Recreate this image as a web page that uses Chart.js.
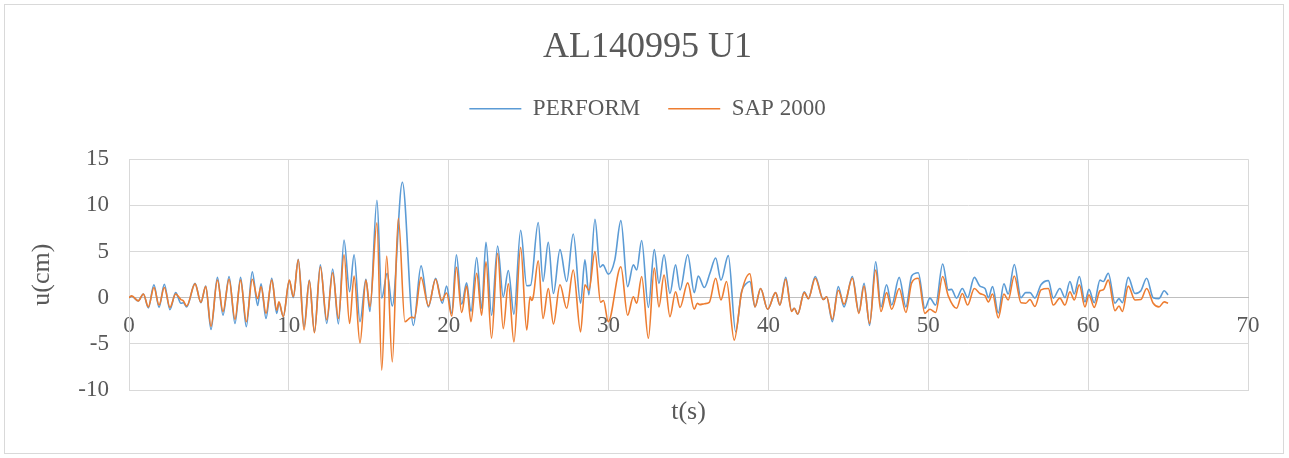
<!DOCTYPE html>
<html>
<head>
<meta charset="utf-8">
<script src="https://cdn.jsdelivr.net/npm/chart.js@4.4.1/dist/chart.umd.min.js"></script>
<style>
  html, body { margin: 0; padding: 0; background: #ffffff; }
  canvas { display: block; }
</style>
</head>
<body>
<canvas id="c" width="1289" height="458"></canvas>
<script>
// ---- data ----
const chartTitle = 'AL140995 U1';
const seriesNames = ['PERFORM', 'SAP 2000'];
const xTitle = 't(s)';
const yTitle = 'u(cm)';
const xTicks = [0, 10, 20, 30, 40, 50, 60, 70];
const yTicks = [-10, -5, 0, 5, 10, 15];

const tPerform = [0,0.17,0.58,0.9,1.21,1.56,1.88,2.21,2.56,2.92,
  3.25,3.4,3.61,4.13,4.5,4.8,5.13,5.53,5.88,6.26,
  6.63,6.98,7.34,7.71,8.05,8.26,8.57,8.93,9.24,9.38,
  9.65,10.03,10.28,10.59,10.95,11.28,11.6,11.97,12.37,12.74,
  13.1,13.45,13.8,14.08,14.45,14.82,15.07,15.51,15.81,16.15,
  16.47,17.1,17.79,18.27,18.73,19.18,19.6,19.87,20.19,20.48,
  20.81,21.12,21.39,21.75,22.06,22.33,22.68,23.06,23.41,23.73,
  24.08,24.5,24.88,25.12,25.6,25.9,26.23,26.55,26.96,27.38,
  27.79,28.25,28.52,28.77,29.15,29.46,29.65,29.98,30.39,30.77,
  31.19,31.55,31.76,32.07,32.49,32.86,33.15,33.47,33.84,34.19,
  34.47,34.95,35.36,35.61,35.99,36.34,36.7,37.03,37.49,37.95,
  38.32,38.6,38.84,39.16,39.51,39.95,40.45,40.72,41.08,41.45,
  41.62,41.83,42.24,42.5,42.93,43.43,43.64,44.0,44.37,44.73,
  45.25,45.66,45.98,46.33,46.71,47.04,47.39,47.71,48.18,48.6,
  48.96,49.37,49.79,50.1,50.46,50.9,51.25,51.45,51.77,52.13,
  52.46,52.88,53.23,53.55,53.76,54.02,54.38,54.73,55.0,55.38,
  55.8,56.09,56.36,56.67,57.05,57.51,57.82,58.23,58.55,58.86,
  59.13,59.45,59.8,60.05,60.38,60.74,60.95,61.26,61.68,61.93,
  62.14,62.51,62.93,63.3,63.66,64.07,64.43,64.76,65.0];
const uPerform = [0,0.15,-0.35,0.4,-1.1,1.4,-1.05,1.45,-1.3,0.55,
  -0.6,-0.55,-1.0,1.55,-0.55,1.25,-3.45,2.2,-1.9,2.3,
  -2.8,2.2,-3.15,2.8,-0.85,1.5,-2.25,2.1,-1.7,-0.55,
  -2.05,1.85,0.0,4.15,-3.15,1.9,-3.7,3.55,-2.8,3.1,
  -2.85,6.25,0.65,4.65,-2.6,2.0,-1.5,10.55,-0.05,2.65,
  -0.9,12.5,-3.0,3.45,-1.0,2.1,-0.6,1.25,-1.7,4.65,
  -0.7,1.6,-1.5,4.35,-1.15,6.0,-1.9,5.6,0.1,2.95,
  -1.8,7.3,1.3,1.35,8.15,1.75,6.0,0.45,5.2,1.75,
  6.9,-0.6,4.1,0.3,8.5,3.3,3.55,2.55,4.1,8.35,
  1.2,3.55,3.0,6.2,-1.05,5.2,1.55,4.65,0.45,3.55,
  0.85,4.65,0.55,2.35,1.1,2.65,4.3,1.9,4.55,-3.7,
  0.65,1.5,1.75,-1.0,1.0,-1.25,0.55,-0.8,2.2,-1.4,
  -1.15,-1.8,0.65,-0.1,2.3,-0.2,0.1,-2.6,1.2,-1.0,
  2.3,-1.6,1.55,-3.0,3.9,-1.0,1.4,-0.8,2.2,-1.0,
  2.35,2.7,-1.15,-0.05,-0.8,3.65,0.85,0.9,-0.05,1.0,
  0.0,2.2,1.25,1.0,0.0,1.2,-1.65,1.5,0.4,3.6,
  0.0,0.55,0.55,-0.05,1.4,1.85,-0.05,1.0,0.0,1.75,
  0.4,2.3,-0.45,0.9,-0.55,1.9,1.75,2.65,-0.6,-0.1,
  -0.55,2.2,0.45,0.75,2.1,0.0,-0.1,0.75,0.3];

const tSap = [0,0.17,0.58,0.9,1.21,1.56,1.88,2.21,2.56,2.92,
  3.25,3.4,3.61,4.13,4.5,4.8,5.13,5.53,5.88,6.26,
  6.63,6.98,7.34,7.71,8.05,8.26,8.57,8.93,9.24,9.38,
  9.65,10.03,10.28,10.59,10.95,11.28,11.6,11.97,12.37,12.74,
  13.1,13.45,13.8,14.08,14.45,14.82,15.07,15.51,15.81,16.12,
  16.47,16.85,17.26,17.47,17.68,17.85,18.27,18.73,19.18,19.55,
  19.87,20.19,20.48,20.81,21.12,21.39,21.75,22.06,22.33,22.68,
  23.06,23.41,23.73,24.08,24.5,24.88,25.09,25.19,25.29,25.6,
  25.9,26.23,26.55,26.96,27.38,27.79,28.25,28.52,28.77,29.15,
  29.5,29.68,29.98,30.77,31.19,31.55,31.76,32.07,32.49,32.86,
  33.15,33.47,33.84,34.19,34.47,34.95,35.36,35.55,35.7,36.0,
  36.3,36.7,37.03,37.38,37.86,38.32,38.84,39.16,39.51,39.95,
  40.45,40.72,41.08,41.45,41.62,41.83,42.24,42.5,42.93,43.43,
  43.64,44.0,44.37,44.73,45.25,45.66,45.98,46.33,46.71,47.04,
  47.39,47.71,48.18,48.6,48.96,49.37,49.79,50.1,50.46,50.9,
  51.25,51.77,52.13,52.46,52.88,53.23,53.55,53.76,54.02,54.38,
  54.73,55.0,55.38,55.8,56.1,56.36,56.67,57.05,57.51,57.82,
  58.23,58.55,58.86,59.13,59.45,59.8,60.05,60.38,60.74,60.95,
  61.26,61.68,61.93,62.14,62.51,62.93,63.3,63.66,64.07,64.43,
  64.76,65.0];
const uSap = [0,0.2,-0.35,0.4,-1.0,1.1,-0.8,1.1,-1.05,0.4,
  -0.2,-0.35,-0.9,1.5,-0.5,1.2,-3.1,1.9,-1.5,2.0,
  -2.35,1.9,-2.6,2.0,-0.1,1.2,-1.7,1.9,-1.35,-0.45,
  -2.05,1.9,0.1,4.1,-3.5,1.85,-3.8,3.35,-2.4,2.7,
  -2.25,4.65,-2.8,2.35,-4.9,1.9,-1.0,8.1,-7.85,4.5,
  -6.95,8.6,-2.6,-2.35,-2.1,-2.2,2.2,-0.9,2.0,-0.3,
  0.5,-2.0,3.3,-1.6,1.25,-2.6,2.65,-1.9,3.9,-4.4,
  4.8,-3.35,1.5,-4.8,5.45,-3.5,0.1,-0.3,0.1,4.0,
  -2.25,1.0,-2.85,1.4,-1.15,3.0,-3.7,1.4,0.8,5.0,
  -0.5,-0.3,-2.6,3.35,-1.9,0.1,-0.6,2.3,-4.4,3.2,
  -1.0,2.45,-2.05,0.65,-1.05,1.6,-1.25,-0.6,-0.75,-0.65,
  -0.5,2.1,-0.25,1.75,-4.6,0.55,2.6,-1.0,1.0,-1.25,
  0.55,-0.8,2.0,-1.5,-1.15,-1.8,0.55,-0.1,2.1,-0.2,
  0.1,-2.35,0.8,-0.7,2.1,-1.7,1.25,-2.8,3.0,-1.5,
  0.55,-1.25,1.0,-1.6,1.6,2.1,-1.7,-1.25,-1.6,2.3,
  0.2,-1.15,0.45,-0.8,1.0,0.45,0.2,-0.45,0.4,-2.2,
  0.4,-0.25,2.35,-0.55,-0.6,-0.2,-0.95,0.85,1.0,-0.8,
  -0.05,-0.8,0.65,-0.25,1.4,-1.0,0.3,-1.05,0.75,0.85,
  1.9,-1.4,-0.9,-1.5,1.25,-0.25,-0.2,1.0,-0.6,-1.0,
  -0.45,-0.6];

// ---- styling ----
const FONT = "'Liberation Serif', 'Times New Roman', serif";
const TEXT = '#595959';
const GRID = '#d9d9d9';
const BLUE = '#5B9BD5';
const ORANGE = '#ED7D31';

function toPoints(ts, us) {
  const n = Math.min(ts.length, us.length);
  const out = [];
  for (let i = 0; i < n; i++) out.push({x: ts[i], y: us[i]});
  return out;
}

const frame = {
  id: 'frame',
  beforeDraw(chart) {
    const ctx = chart.ctx;
    ctx.save();
    ctx.fillStyle = '#ffffff';
    ctx.fillRect(0, 0, chart.width, chart.height);
    ctx.strokeStyle = GRID;
    ctx.lineWidth = 1;
    ctx.strokeRect(4.5, 4.5, 1279, 449);
    ctx.restore();
  }
};

new Chart(document.getElementById('c'), {
  type: 'line',
  data: {
    datasets: [
      {
        label: seriesNames[0],
        data: toPoints(tPerform, uPerform),
        borderColor: BLUE, backgroundColor: BLUE,
        borderWidth: 1.6, pointRadius: 0, fill: false,
        cubicInterpolationMode: 'monotone',
        xAxisID: 'x', yAxisID: 'y', order: 1
      },
      {
        label: seriesNames[1],
        data: toPoints(tSap, uSap),
        borderColor: ORANGE, backgroundColor: ORANGE,
        borderWidth: 1.6, pointRadius: 0, fill: false,
        cubicInterpolationMode: 'monotone',
        xAxisID: 'x', yAxisID: 'y', order: 0
      }
    ]
  },
  options: {
    responsive: false,
    animation: false,
    devicePixelRatio: 1,
    parsing: true,
    layout: { padding: { top: 8, left: 12, right: 6, bottom: 5 } },
    plugins: {
      tooltip: { enabled: false },
      title: {
        display: true, text: chartTitle, color: TEXT,
        font: { family: FONT, size: 36, weight: 'normal', lineHeight: 1.2 },
        padding: { top: 18, bottom: 0 }
      },
      legend: {
        display: true, position: 'top',
        labels: {
          color: TEXT,
          font: { family: FONT, size: 23 },
          boxWidth: 52, boxHeight: 0, padding: 28,
          sort: (a, b) => a.datasetIndex - b.datasetIndex
        }
      }
    },
    scales: {
      x: {
        type: 'linear', axis: 'x', position: 'bottom',
        min: xTicks[0], max: xTicks[xTicks.length - 1],
        ticks: { display: false, stepSize: 10 },
        grid: { color: GRID, drawTicks: false, lineWidth: 1 },
        border: { display: true, color: GRID },
        title: {
          display: true, text: xTitle, color: TEXT,
          font: { family: FONT, size: 26, lineHeight: 1.2 },
          padding: { top: 0, bottom: 25 }
        },
        afterFit: (s) => { s.height = 63; }
      },
      x0: {
        type: 'linear', axis: 'x', position: { y: 0 },
        min: xTicks[0], max: xTicks[xTicks.length - 1],
        ticks: { stepSize: 10, color: TEXT, padding: 14, font: { family: FONT, size: 23 } },
        grid: { display: false, drawTicks: false },
        border: { display: true, color: '#bfbfbf', width: 1 }
      },
      xTop: {
        type: 'linear', axis: 'x', position: 'top',
        ticks: { display: false },
        grid: { display: false, drawTicks: false },
        border: { display: false },
        afterFit: (s) => { s.height = 29; }
      },
      y: {
        type: 'linear', axis: 'y', position: 'left',
        min: yTicks[0], max: yTicks[yTicks.length - 1],
        ticks: { stepSize: 5, color: TEXT, padding: 20, font: { family: FONT, size: 23 } },
        grid: { color: GRID, drawTicks: false, lineWidth: 1 },
        border: { display: true, color: GRID },
        title: {
          display: true, text: yTitle, color: TEXT,
          font: { family: FONT, size: 26, lineHeight: 1.2 },
          padding: { top: 15, bottom: 0 }
        },
        afterFit: (s) => { s.width = 117; }
      },
      yRight: {
        type: 'linear', axis: 'y', position: 'right',
        ticks: { display: false },
        grid: { display: false, drawTicks: false },
        border: { display: false },
        afterFit: (s) => { s.width = 35; }
      }
    }
  },
  plugins: [frame]
});
</script>
</body>
</html>
